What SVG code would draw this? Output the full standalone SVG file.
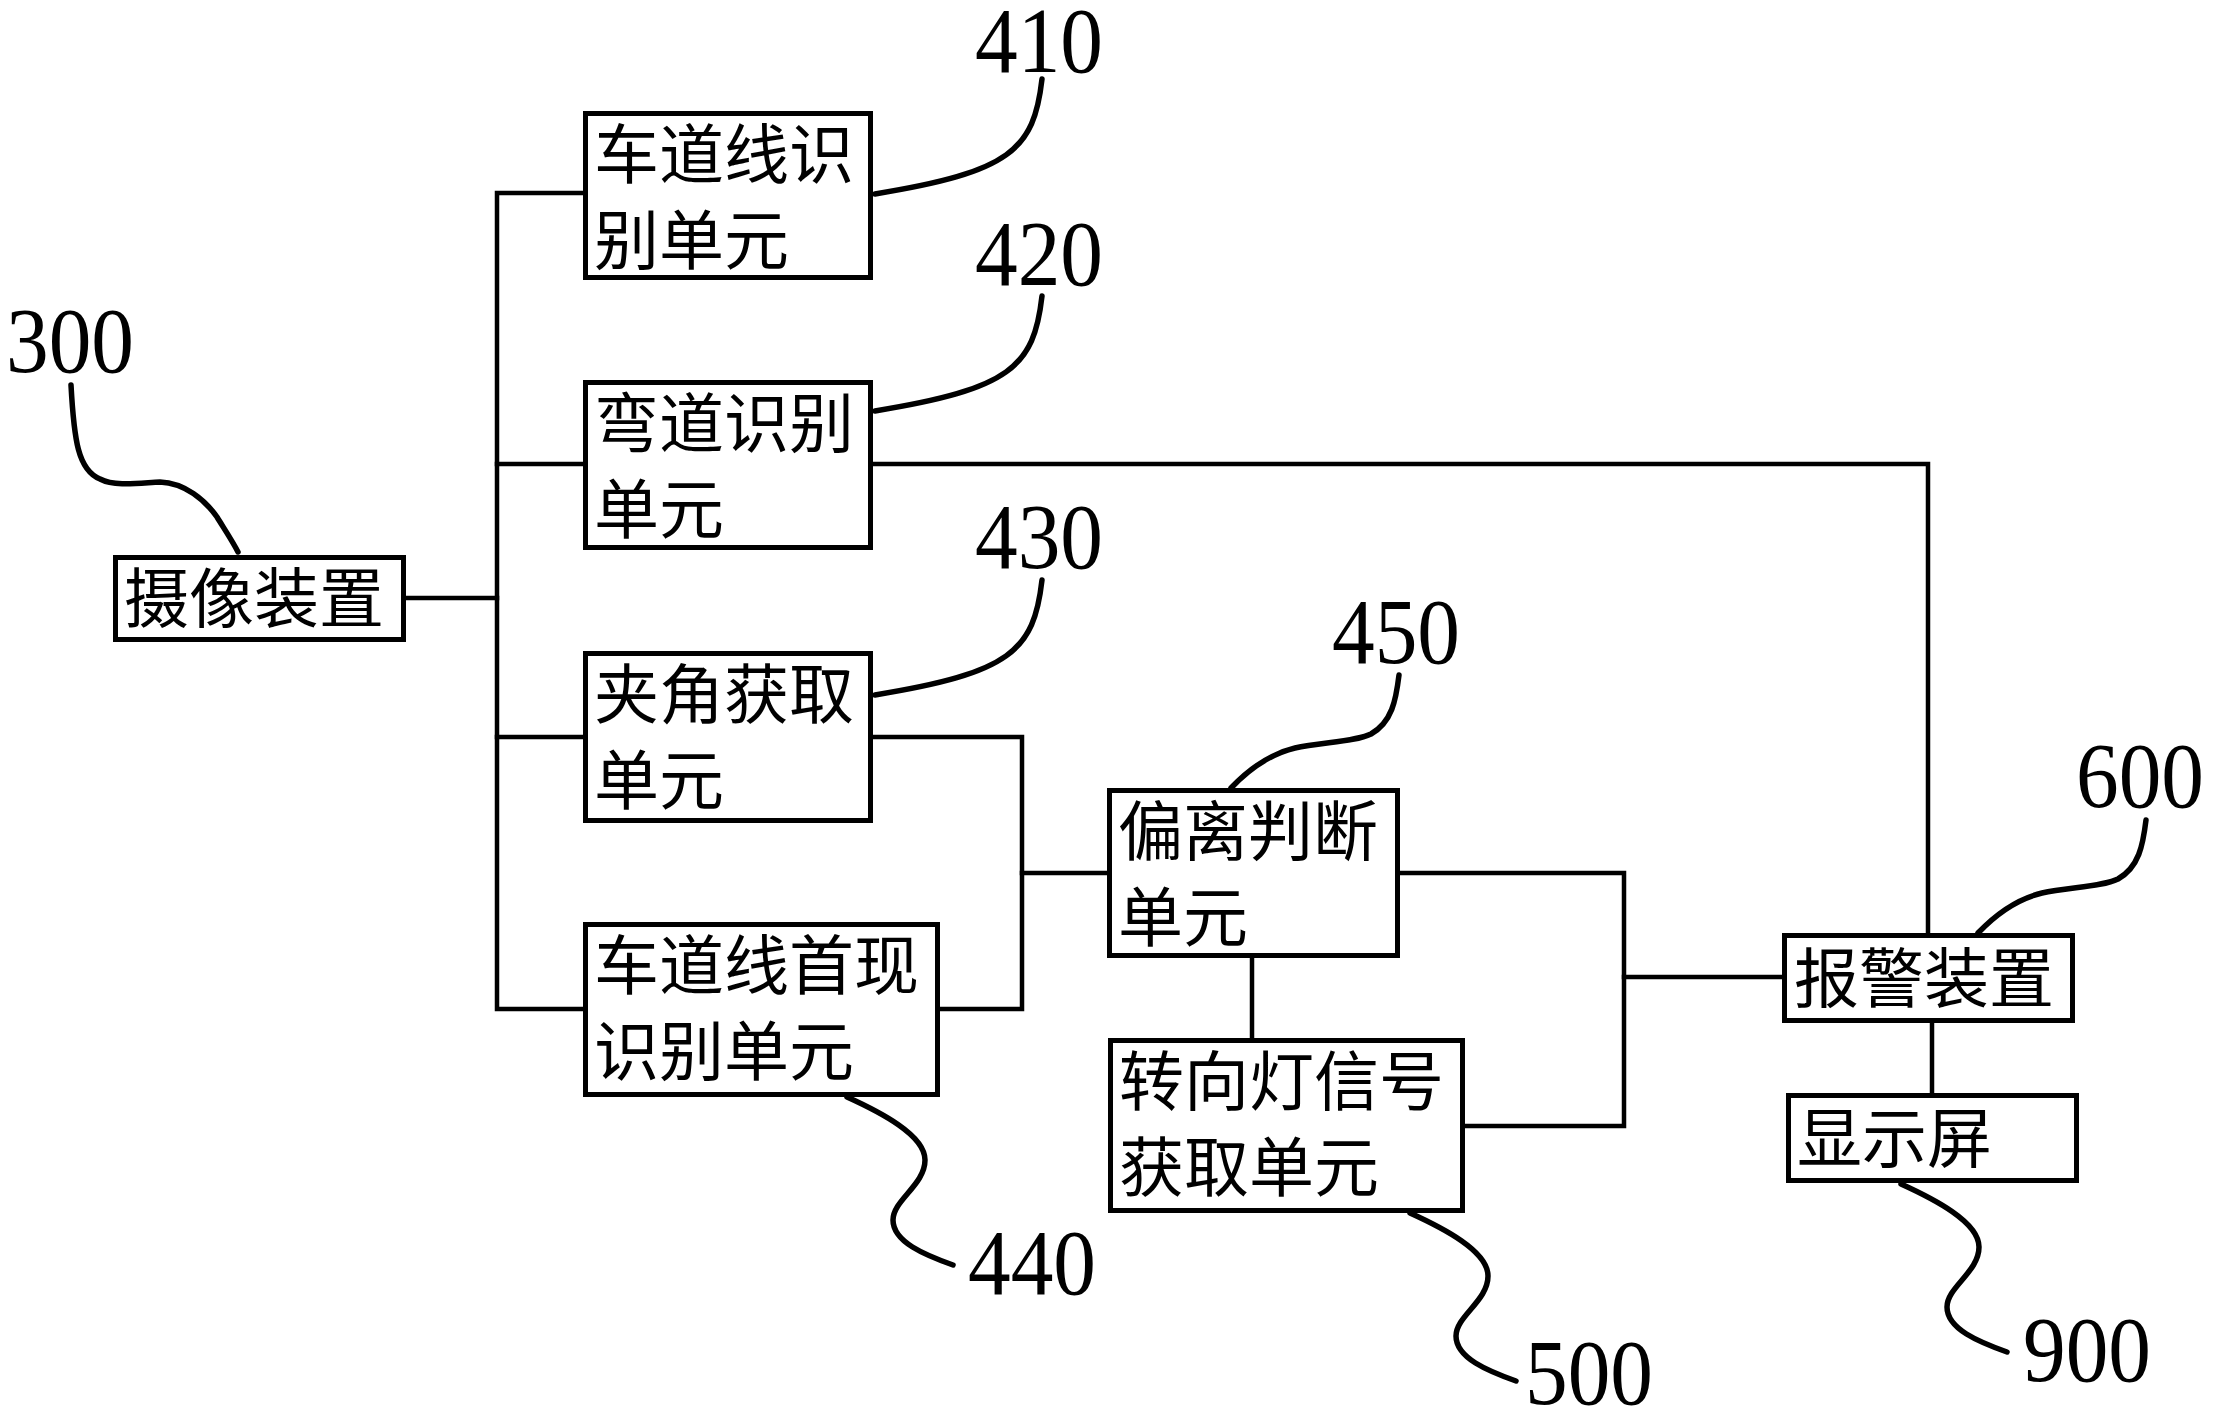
<svg xmlns="http://www.w3.org/2000/svg" width="2213" height="1414" viewBox="0 0 2213 1414">
<style>
.box{fill:#fff;stroke:#000;stroke-width:5}
.t{font-family:"Noto Sans CJK SC","Noto Sans CJK JP",sans-serif;font-size:65px;fill:#000}
.num{font-family:"Liberation Serif",serif;font-size:93px;fill:#000;text-anchor:middle}
.c{fill:none;stroke:#000;stroke-width:4.5;stroke-linejoin:miter;stroke-linecap:square}
.ld{fill:none;stroke:#000;stroke-width:5.5;stroke-linecap:round}
</style>
<rect width="2213" height="1414" fill="#fff"/>
<g id="connectors">
<path class="c" d="M406,598 H497"/>
<path class="c" d="M583,193 H497 V1009 H583"/>
<path class="c" d="M497,464 H583"/>
<path class="c" d="M497,737 H583"/>
<path class="c" d="M873,464 H1928 V933"/>
<path class="c" d="M873,737 H1022 V1009 H940"/>
<path class="c" d="M1022,873 H1107"/>
<path class="c" d="M1400,873 H1624 V1126 H1465"/>
<path class="c" d="M1624,977 H1782"/>
<path class="c" d="M1252,958 V1038"/>
<path class="c" d="M1932,1023 V1093"/>
</g>
<g id="leaders">
<path class="ld" d="M71,385 C74,440 78,470 100,479 C115,487 140,483 160,482 C185,483 205,500 217,517 C225,530 233,542 238,552"/>
<path class="ld" d="M1042,79 C1034,150 1010,172 875,194"/>
<path class="ld" d="M1042,296 C1034,367 1010,389 875,411"/>
<path class="ld" d="M1042,580 C1034,651 1010,673 875,695"/>
<path class="ld" d="M1399,675 C1396,700 1392,722 1371,734 C1355,742 1320,742 1295,748 C1270,754 1250,768 1231,788"/>
<path class="ld" d="M2146,820 C2143,845 2139,867 2118,879 C2102,887 2067,887 2042,893 C2017,899 1997,913 1978,933"/>
<path class="ld" d="M847,1097 C880,1112 925,1135 925,1160 C925,1185 893,1200 893,1220 C893,1242 925,1255 953,1265"/>
<path class="ld" d="M1410,1213 C1443,1228 1488,1251 1488,1276 C1488,1301 1456,1316 1456,1336 C1456,1358 1488,1371 1516,1381"/>
<path class="ld" d="M1901,1184 C1934,1199 1979,1222 1979,1247 C1979,1272 1947,1287 1947,1307 C1947,1329 1979,1342 2007,1352"/>
</g>
<g id="labels">
<text class="num" x="70" y="372" textLength="128" lengthAdjust="spacingAndGlyphs">300</text>
<text class="num" x="1039" y="72" textLength="128" lengthAdjust="spacingAndGlyphs">410</text>
<text class="num" x="1039" y="285" textLength="128" lengthAdjust="spacingAndGlyphs">420</text>
<text class="num" x="1039" y="568" textLength="128" lengthAdjust="spacingAndGlyphs">430</text>
<text class="num" x="1396" y="663" textLength="128" lengthAdjust="spacingAndGlyphs">450</text>
<text class="num" x="2140" y="807" textLength="128" lengthAdjust="spacingAndGlyphs">600</text>
<text class="num" x="1032" y="1294" textLength="128" lengthAdjust="spacingAndGlyphs">440</text>
<text class="num" x="1589" y="1404" textLength="128" lengthAdjust="spacingAndGlyphs">500</text>
<text class="num" x="2087" y="1381" textLength="128" lengthAdjust="spacingAndGlyphs">900</text>
</g>
<g id="n300"><rect class="box" x="115.5" y="557.5" width="288" height="82"/><text class="t" x="124" y="622">摄像装置</text></g>
<g id="n410"><rect class="box" x="585.5" y="113.5" width="285" height="164"/><text class="t" x="594" y="178">车道线识</text><text class="t" x="594" y="264">别单元</text></g>
<g id="n420"><rect class="box" x="585.5" y="382.5" width="285" height="165"/><text class="t" x="594" y="447">弯道识别</text><text class="t" x="594" y="533">单元</text></g>
<g id="n430"><rect class="box" x="585.5" y="653.5" width="285" height="167"/><text class="t" x="594" y="718">夹角获取</text><text class="t" x="594" y="804">单元</text></g>
<g id="n440"><rect class="box" x="585.5" y="924.5" width="352" height="170"/><text class="t" x="594" y="989">车道线首现</text><text class="t" x="594" y="1075">识别单元</text></g>
<g id="n450"><rect class="box" x="1109.5" y="790.5" width="288" height="165"/><text class="t" x="1118" y="855">偏离判断</text><text class="t" x="1118" y="941">单元</text></g>
<g id="n500"><rect class="box" x="1110.5" y="1040.5" width="352" height="170"/><text class="t" x="1119" y="1105">转向灯信号</text><text class="t" x="1119" y="1191">获取单元</text></g>
<g id="n600"><rect class="box" x="1784.5" y="935.5" width="288" height="85"/><text class="t" x="1794" y="1002">报警装置</text></g>
<g id="n900"><rect class="box" x="1788.5" y="1095.5" width="288" height="85"/><text class="t" x="1797" y="1162">显示屏</text></g>
</svg>
